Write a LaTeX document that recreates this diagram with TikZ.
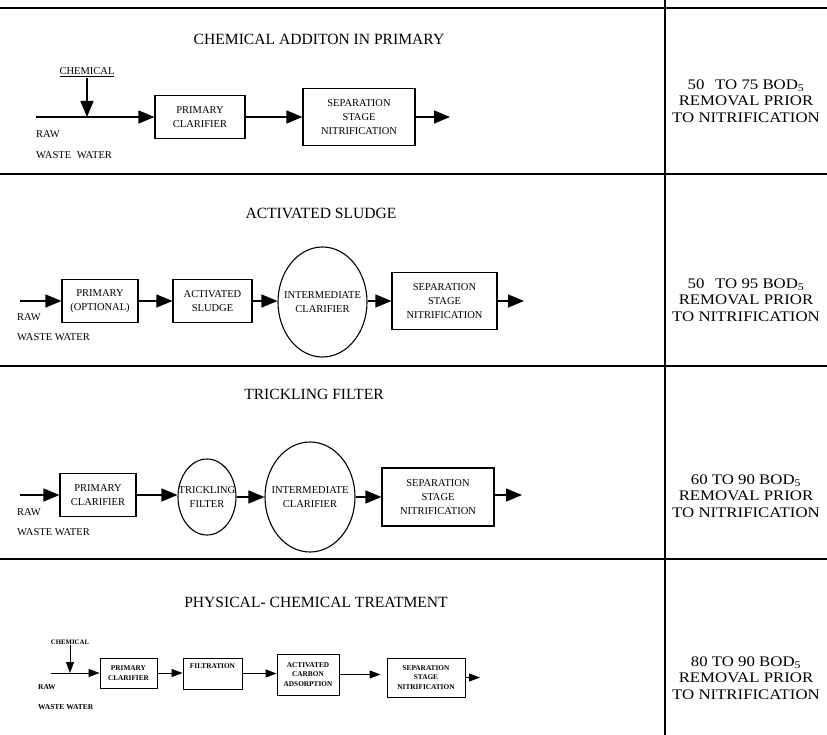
\documentclass[tikz,border=0pt]{standalone}
\usepackage{fontspec}
\setmainfont{Liberation Serif}
\newfontfamily\widefont[FakeStretch=1.15]{Liberation Serif}
\usetikzlibrary{arrows.meta,shapes.geometric}
\tikzset{
  divider/.style={line width=1.3pt},
  arr/.style={line width=1.3pt,-{Triangle[length=16pt,width=13pt]}},
  arrs/.style={line width=1pt,-{Triangle[length=11pt,width=8pt]}},
  box/.style={draw,line width=1.1pt,inner sep=0pt,align=center,font=\fontsize{10.5}{14}\selectfont},
  oval/.style={draw,ellipse,line width=1.1pt,inner sep=0pt},
  ovaltext/.style={align=center,inner sep=0pt,font=\fontsize{10.5}{14}\selectfont},
  boxs/.style={draw,line width=0.9pt,inner sep=0pt,align=center,font=\bfseries\fontsize{7.3}{9.5}\selectfont},
  title/.style={font=\fontsize{15.6}{18}\selectfont},
  lbl/.style={anchor=west,inner sep=0pt,font=\fontsize{10.5}{12}\selectfont},
  lbls/.style={anchor=west,inner sep=0pt,font=\bfseries\fontsize{7.5}{9}\selectfont},
  result/.style={align=center,inner sep=0pt,font=\widefont\fontsize{14.6}{16.5}\selectfont},
}
\begin{document}
\begin{tikzpicture}[x=1pt,y=-1pt]
\useasboundingbox (0,0) rectangle (827,735);
% frame lines
\coordinate (tl) at (0,8);   \coordinate (tr) at (827,8);
\coordinate (l1) at (0,174); \coordinate (r1) at (827,174);
\coordinate (l2) at (0,366); \coordinate (r2) at (827,366);
\coordinate (l3) at (0,559); \coordinate (r3) at (827,559);
\coordinate (vt) at (665,0); \coordinate (vb) at (665,735);
\draw[divider] (tl) -- (tr);
\draw[divider] (l1) -- (r1);
\draw[divider] (l2) -- (r2);
\draw[divider] (l3) -- (r3);
\draw[divider] (vt) -- (vb);

% ---------- Panel 1 ----------
\node[title] (t1) at (319,39) {CHEMICAL ADDITON IN PRIMARY};
\node[font=\fontsize{10.5}{12}\selectfont,inner sep=1pt] (chem1) at (87,72) {\underline{CHEMICAL}};
\coordinate (in1) at (36,117);
\coordinate (j1) at (87,117);
\node[box,minimum width=90pt,minimum height=43pt] (p1) at (200,117) {PRIMARY\\CLARIFIER};
\node[box,minimum width=112pt,minimum height=57pt] (s1) at (359,117) {SEPARATION\\STAGE\\NITRIFICATION};
\coordinate (out1) at (450,117);
\draw[arr] (in1) -- (p1.west);
\draw[arr] (chem1.south) -- (j1);
\draw[arr] (p1.east) -- (s1.west);
\draw[arr] (s1.east) -- (out1);
\node[lbl] (raw1) at (36,134) {RAW};
\node[lbl] (ww1) at (36,155) {WASTE\hspace{0.3em} WATER};
\node[result] (r1t) at (746,101) {50\hspace{0.45em} TO 75 BOD\textsubscript{5}\\REMOVAL PRIOR\\TO NITRIFICATION};

% ---------- Panel 2 ----------
\node[title] (t2) at (321,213) {ACTIVATED SLUDGE};
\coordinate (in2) at (20,301);
\node[box,minimum width=76pt,minimum height=43pt] (p2) at (100,301) {PRIMARY\\(OPTIONAL)};
\node[box,minimum width=79pt,minimum height=43pt] (a2) at (212.5,301) {ACTIVATED\\SLUDGE};
\node[oval,minimum width=89pt,minimum height=110pt] (c2) at (322.5,302) {};
\node[ovaltext] (c2t) at (c2.center) {INTERMEDIATE\\CLARIFIER};
\node[box,minimum width=105pt,minimum height=57pt] (s2) at (444.5,301) {SEPARATION\\STAGE\\NITRIFICATION};
\coordinate (out2) at (524,301);
\draw[arr] (in2) -- (p2.west);
\draw[arr] (p2.east) -- (a2.west);
\draw[arr] (a2.east) -- (a2.east -| c2.west);
\draw[arr] (c2.east |- s2.west) -- (s2.west);
\draw[arr] (s2.east) -- (out2);
\node[lbl] (raw2) at (17,317) {RAW};
\node[lbl] (ww2) at (17,337) {WASTE WATER};
\node[result] (r2t) at (746,300) {50\hspace{0.45em} TO 95 BOD\textsubscript{5}\\REMOVAL PRIOR\\TO NITRIFICATION};

% ---------- Panel 3 ----------
\node[title] (t3) at (314,394) {TRICKLING FILTER};
\coordinate (in3) at (20,495);
\node[box,minimum width=76pt,minimum height=43pt] (p3) at (98,495) {PRIMARY\\CLARIFIER};
\node[oval,minimum width=58pt,minimum height=76pt] (tf3) at (207,497) {};
\node[ovaltext] (tf3t) at (tf3.center) {TRICKLING\\FILTER};
\node[oval,minimum width=90pt,minimum height=110pt] (c3) at (310,497) {};
\node[ovaltext] (c3t) at (c3.center) {INTERMEDIATE\\CLARIFIER};
\node[box,minimum width=112pt,minimum height=58pt] (s3) at (438,497) {SEPARATION\\STAGE\\NITRIFICATION};
\coordinate (out3) at (522,495);
\draw[arr] (in3) -- (p3.west);
\draw[arr] (p3.east) -- (p3.east -| tf3.west);
\draw[arr] (tf3.east) -- (tf3.east -| c3.west);
\draw[arr] (c3.east) -- (c3.east -| s3.west);
\draw[arr] (s3.east |- out3) -- (out3);
\node[lbl] (raw3) at (17,512) {RAW};
\node[lbl] (ww3) at (17,532) {WASTE WATER};
\node[result] (r3t) at (746,496) {60 TO 90 BOD\textsubscript{5}\\REMOVAL PRIOR\\TO NITRIFICATION};

% ---------- Panel 4 ----------
\node[title] (t4) at (316,602) {PHYSICAL- CHEMICAL TREATMENT};
\node[font=\bfseries\fontsize{6.8}{8}\selectfont,inner sep=1pt] (chem4) at (70,642) {CHEMICAL};
\coordinate (in4) at (51,673);
\coordinate (j4) at (70,673);
\node[boxs,minimum width=57pt,minimum height=30pt] (p4) at (128.5,673) {PRIMARY\\CLARIFIER};
\node[boxs,minimum width=59pt,minimum height=31pt] (f4) at (212.5,673.5) {};
\node[inner sep=0pt,font=\bfseries\fontsize{7.3}{9}\selectfont,anchor=north] (f4t) at ([yshift=-6pt]f4.north) {FILTRATION};
\node[boxs,minimum width=62pt,minimum height=41pt] (ac4) at (308,674.5) {ACTIVATED\\CARBON\\ADSORPTION};
\node[boxs,minimum width=78pt,minimum height=39pt] (s4) at (426,677.5) {SEPARATION\\STAGE\\NITRIFICATION};
\coordinate (out4) at (480,677.5);
\draw[arrs] (in4) -- (p4.west);
\draw[arrs] (chem4.south) -- (j4);
\draw[arrs] (p4.east) -- (p4.east -| f4.west);
\draw[arrs] (f4.east) -- (f4.east -| ac4.west);
\draw[arrs,shorten >=6pt] (ac4.east) -- (ac4.east -| s4.west);
\draw[arrs] (s4.east) -- (out4);
\node[lbls] (raw4) at (38,687) {RAW};
\node[lbls] (ww4) at (38,707) {WASTE WATER};
\node[result] (r4t) at (746,678) {80 TO 90 BOD\textsubscript{5}\\REMOVAL PRIOR\\TO NITRIFICATION};
\end{tikzpicture}
\end{document}
